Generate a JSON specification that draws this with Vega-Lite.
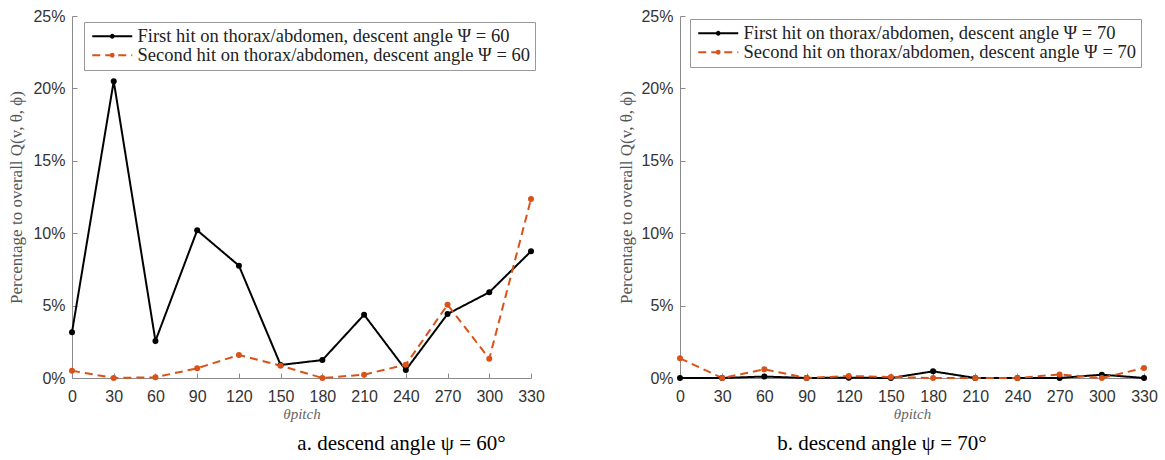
{
  "$schema": "https://vega.github.io/schema/vega-lite/v6.json",
  "background": "white",
  "padding": {"left": 7, "top": 8, "right": 5, "bottom": 5},
  "autosize": {"type": "pad"},
  "bounds": "flush",
  "spacing": 149,
  "config": {
    "view": {"stroke": null},
    "font": "Liberation Sans",
    "axis": {
      "labelFont": "Liberation Sans",
      "labelFontSize": 16,
      "labelColor": "#333333",
      "domainColor": "#8a8a8a",
      "tickColor": "#8a8a8a",
      "tickSize": -5,
      "grid": false,
      "titleFont": "Liberation Serif",
      "titleFontWeight": "normal",
      "titleColor": "#555555",
      "titleFontSize": 15
    },
    "legend": {
      "strokeColor": "#999999",
      "fillColor": "white",
      "padding": 5,
      "labelFont": "Liberation Serif",
      "labelFontSize": 18.5,
      "labelColor": "#222222",
      "labelLimit": 600,
      "symbolType": "M-1.2,0L6.8,0M2.52,0A0.28,0.28 0 1,0 3.08,0A0.28,0.28 0 1,0 2.52,0",
      "symbolSize": 100,
      "symbolStrokeWidth": 2,
      "labelOffset": 30,
      "rowPadding": 0
    }
  },
  "datasets": {
    "a": [
      {"series": "First hit on thorax/abdomen, descent angle Ψ = 60", "theta": 0, "pct": 3.16},
      {"series": "First hit on thorax/abdomen, descent angle Ψ = 60", "theta": 30, "pct": 20.5},
      {"series": "First hit on thorax/abdomen, descent angle Ψ = 60", "theta": 60, "pct": 2.56},
      {"series": "First hit on thorax/abdomen, descent angle Ψ = 60", "theta": 90, "pct": 10.2},
      {"series": "First hit on thorax/abdomen, descent angle Ψ = 60", "theta": 120, "pct": 7.76},
      {"series": "First hit on thorax/abdomen, descent angle Ψ = 60", "theta": 150, "pct": 0.9},
      {"series": "First hit on thorax/abdomen, descent angle Ψ = 60", "theta": 180, "pct": 1.24},
      {"series": "First hit on thorax/abdomen, descent angle Ψ = 60", "theta": 210, "pct": 4.37},
      {"series": "First hit on thorax/abdomen, descent angle Ψ = 60", "theta": 240, "pct": 0.55},
      {"series": "First hit on thorax/abdomen, descent angle Ψ = 60", "theta": 270, "pct": 4.42},
      {"series": "First hit on thorax/abdomen, descent angle Ψ = 60", "theta": 300, "pct": 5.92},
      {"series": "First hit on thorax/abdomen, descent angle Ψ = 60", "theta": 330, "pct": 8.75},
      {"series": "Second hit on thorax/abdomen, descent angle Ψ = 60", "theta": 0, "pct": 0.5},
      {"series": "Second hit on thorax/abdomen, descent angle Ψ = 60", "theta": 30, "pct": 0.0},
      {"series": "Second hit on thorax/abdomen, descent angle Ψ = 60", "theta": 60, "pct": 0.05},
      {"series": "Second hit on thorax/abdomen, descent angle Ψ = 60", "theta": 90, "pct": 0.67},
      {"series": "Second hit on thorax/abdomen, descent angle Ψ = 60", "theta": 120, "pct": 1.59},
      {"series": "Second hit on thorax/abdomen, descent angle Ψ = 60", "theta": 150, "pct": 0.85},
      {"series": "Second hit on thorax/abdomen, descent angle Ψ = 60", "theta": 180, "pct": 0.0},
      {"series": "Second hit on thorax/abdomen, descent angle Ψ = 60", "theta": 210, "pct": 0.23},
      {"series": "Second hit on thorax/abdomen, descent angle Ψ = 60", "theta": 240, "pct": 0.92},
      {"series": "Second hit on thorax/abdomen, descent angle Ψ = 60", "theta": 270, "pct": 5.06},
      {"series": "Second hit on thorax/abdomen, descent angle Ψ = 60", "theta": 300, "pct": 1.33},
      {"series": "Second hit on thorax/abdomen, descent angle Ψ = 60", "theta": 330, "pct": 12.36}
    ],
    "b": [
      {"series": "First hit on thorax/abdomen, descent angle Ψ = 70", "theta": 0, "pct": 0.0},
      {"series": "First hit on thorax/abdomen, descent angle Ψ = 70", "theta": 30, "pct": 0.0},
      {"series": "First hit on thorax/abdomen, descent angle Ψ = 70", "theta": 60, "pct": 0.1},
      {"series": "First hit on thorax/abdomen, descent angle Ψ = 70", "theta": 90, "pct": 0.0},
      {"series": "First hit on thorax/abdomen, descent angle Ψ = 70", "theta": 120, "pct": 0.02},
      {"series": "First hit on thorax/abdomen, descent angle Ψ = 70", "theta": 150, "pct": 0.0},
      {"series": "First hit on thorax/abdomen, descent angle Ψ = 70", "theta": 180, "pct": 0.46},
      {"series": "First hit on thorax/abdomen, descent angle Ψ = 70", "theta": 210, "pct": 0.0},
      {"series": "First hit on thorax/abdomen, descent angle Ψ = 70", "theta": 240, "pct": 0.0},
      {"series": "First hit on thorax/abdomen, descent angle Ψ = 70", "theta": 270, "pct": 0.0},
      {"series": "First hit on thorax/abdomen, descent angle Ψ = 70", "theta": 300, "pct": 0.23},
      {"series": "First hit on thorax/abdomen, descent angle Ψ = 70", "theta": 330, "pct": 0.0},
      {"series": "Second hit on thorax/abdomen, descent angle Ψ = 70", "theta": 0, "pct": 1.36},
      {"series": "Second hit on thorax/abdomen, descent angle Ψ = 70", "theta": 30, "pct": 0.0},
      {"series": "Second hit on thorax/abdomen, descent angle Ψ = 70", "theta": 60, "pct": 0.6},
      {"series": "Second hit on thorax/abdomen, descent angle Ψ = 70", "theta": 90, "pct": 0.0},
      {"series": "Second hit on thorax/abdomen, descent angle Ψ = 70", "theta": 120, "pct": 0.14},
      {"series": "Second hit on thorax/abdomen, descent angle Ψ = 70", "theta": 150, "pct": 0.07},
      {"series": "Second hit on thorax/abdomen, descent angle Ψ = 70", "theta": 180, "pct": 0.0},
      {"series": "Second hit on thorax/abdomen, descent angle Ψ = 70", "theta": 210, "pct": 0.0},
      {"series": "Second hit on thorax/abdomen, descent angle Ψ = 70", "theta": 240, "pct": 0.0},
      {"series": "Second hit on thorax/abdomen, descent angle Ψ = 70", "theta": 270, "pct": 0.25},
      {"series": "Second hit on thorax/abdomen, descent angle Ψ = 70", "theta": 300, "pct": 0.0},
      {"series": "Second hit on thorax/abdomen, descent angle Ψ = 70", "theta": 330, "pct": 0.69}
    ]
  },
  "resolve": {"scale": {"color": "independent", "strokeDash": "independent"}},
  "hconcat": [
    {
      "width": 459,
      "height": 362,
      "title": {"text": "a. descend angle ψ = 60°", "orient": "bottom", "anchor": "middle", "dx": 100, "offset": 12, "font": "Liberation Serif", "fontSize": 21, "fontWeight": "normal", "color": "#000000"},
      "data": {"name": "a"},
      "mark": {"type": "line", "strokeWidth": 2, "point": {"filled": true, "size": 36}},
      "encoding": {
        "x": {"field": "theta", "type": "quantitative", "scale": {"domain": [0, 330], "nice": false, "zero": false},
          "axis": {"values": [0, 30, 60, 90, 120, 150, 180, 210, 240, 270, 300, 330], "title": "θpitch", "titleFontStyle": "italic", "titleColor": "#666666", "labelPadding": 15, "labelFlush": false, "titlePadding": 2}},
        "y": {"field": "pct", "type": "quantitative", "scale": {"domain": [0, 25], "nice": false},
          "axis": {"values": [0, 5, 10, 15, 20, 25], "labelExpr": "datum.value + '%'", "title": "Percentage to overall Q(v, θ, ϕ)", "titleFontSize": 17, "labelPadding": 12, "titlePadding": 7}},
        "color": {"field": "series", "type": "nominal",
          "scale": {"domain": ["First hit on thorax/abdomen, descent angle Ψ = 60", "Second hit on thorax/abdomen, descent angle Ψ = 60"], "range": ["#000000", "#D95319"]},
          "legend": {"title": null, "orient": "none", "legendX": 12, "legendY": 6}},
        "strokeDash": {"field": "series", "type": "nominal",
          "scale": {"domain": ["First hit on thorax/abdomen, descent angle Ψ = 60", "Second hit on thorax/abdomen, descent angle Ψ = 60"], "range": [[1, 0], [8, 5]]},
          "legend": {"title": null, "orient": "none", "legendX": 12, "legendY": 6}}
      }
    },
    {
      "width": 464,
      "height": 362,
      "title": {"text": "b. descend angle ψ = 70°", "orient": "bottom", "anchor": "middle", "dx": -30, "offset": 12, "font": "Liberation Serif", "fontSize": 21, "fontWeight": "normal", "color": "#000000"},
      "data": {"name": "b"},
      "mark": {"type": "line", "strokeWidth": 2, "point": {"filled": true, "size": 36}},
      "encoding": {
        "x": {"field": "theta", "type": "quantitative", "scale": {"domain": [0, 330], "nice": false, "zero": false},
          "axis": {"values": [0, 30, 60, 90, 120, 150, 180, 210, 240, 270, 300, 330], "title": "θpitch", "titleFontStyle": "italic", "titleColor": "#666666", "labelPadding": 15, "labelFlush": false, "titlePadding": 2}},
        "y": {"field": "pct", "type": "quantitative", "scale": {"domain": [0, 25], "nice": false},
          "axis": {"values": [0, 5, 10, 15, 20, 25], "labelExpr": "datum.value + '%'", "title": "Percentage to overall Q(v, θ, ϕ)", "titleFontSize": 17, "labelPadding": 12, "titlePadding": 5}},
        "color": {"field": "series", "type": "nominal",
          "scale": {"domain": ["First hit on thorax/abdomen, descent angle Ψ = 70", "Second hit on thorax/abdomen, descent angle Ψ = 70"], "range": ["#000000", "#D95319"]},
          "legend": {"title": null, "orient": "none", "legendX": 10, "legendY": 3}},
        "strokeDash": {"field": "series", "type": "nominal",
          "scale": {"domain": ["First hit on thorax/abdomen, descent angle Ψ = 70", "Second hit on thorax/abdomen, descent angle Ψ = 70"], "range": [[1, 0], [8, 5]]},
          "legend": {"title": null, "orient": "none", "legendX": 10, "legendY": 3}}
      }
    }
  ]
}
